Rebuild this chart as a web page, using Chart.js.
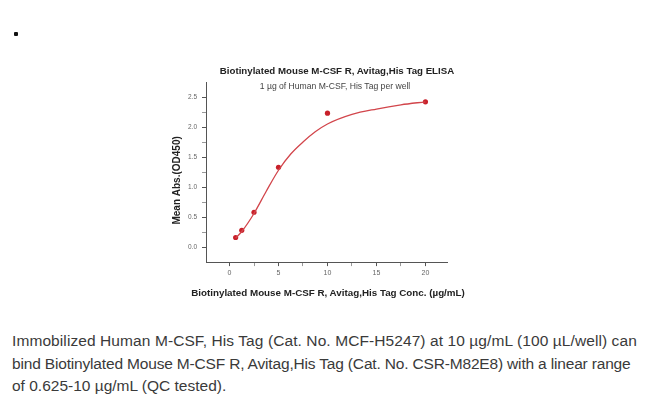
<!DOCTYPE html>
<html>
<head>
<meta charset="utf-8">
<script src="https://cdn.jsdelivr.net/npm/chart.js@4"></script>
<style>
  html, body { margin: 0; padding: 0; background: #fff; }
  body { width: 650px; height: 399px; position: relative; overflow: hidden; font-family: "Liberation Sans", Arial, sans-serif; }
  #wrap { position: absolute; left: 0; top: 0; width: 650px; height: 310px; }
  .ttl { position: absolute; white-space: nowrap; transform: translate(-50%, -50%); color: #222; }
  #title { left: 337px; top: 70px; font: bold 9.7px "Liberation Sans", Arial, sans-serif; }
  #subtitle { left: 335px; top: 86px; font: 8.6px "Liberation Sans", Arial, sans-serif; color: #444; }
  #xtitle { left: 328px; top: 292px; font: bold 9.8px "Liberation Sans", Arial, sans-serif; }
  #bullet { position: absolute; left: 14px; top: 32px; width: 4px; height: 4px; background: #111; border-radius: 1px; }
  #caption { position: absolute; left: 12px; top: 330px; width: 640px; font-size: 15.5px; line-height: 22.7px; color: #3a3a3a; white-space: nowrap; }
  #l1 { letter-spacing: 0.09px; }
  #l2 { letter-spacing: -0.17px; }
</style>
</head>
<body>
<div id="bullet"></div>
<div id="wrap"><canvas id="c" width="650" height="310"></canvas></div>
<div id="title" class="ttl">Biotinylated Mouse M-CSF R, Avitag,His Tag ELISA</div>
<div id="subtitle" class="ttl">1 µg of Human M-CSF, His Tag per well</div>
<div id="xtitle" class="ttl">Biotinylated Mouse M-CSF R, Avitag,His Tag Conc. (µg/mL)</div>
<div id="caption"><span id="l1">Immobilized Human M-CSF, His Tag (Cat. No. MCF-H5247) at 10 µg/mL (100 µL/well) can</span><br><span id="l2">bind Biotinylated Mouse M-CSF R, Avitag,His Tag (Cat. No. CSR-M82E8) with a linear range</span><br><span id="l3">of 0.625-10 µg/mL (QC tested).</span></div>
<script>
// measured points
const concentrations = [0.625, 1.25, 2.5, 5, 10, 20];
const meanAbs = [0.16, 0.28, 0.58, 1.33, 2.23, 2.42];
// fitted curve
const fitConc = [0.625, 1.25, 2.5, 3.75, 5, 6.25, 7.5, 8.75, 10, 12.5, 15, 17.5, 20];
const fitAbs = [0.15, 0.26, 0.56, 0.93, 1.28, 1.55, 1.75, 1.92, 2.05, 2.21, 2.30, 2.37, 2.42];
// tick labels
const xTickValues = [0, 5, 10, 15, 20];
const yTickValues = [0, 0.5, 1.0, 1.5, 2.0, 2.5];
const yTitle = 'Mean Abs.(OD450)\u00a0\u00a0\u00a0\u00a0\u00a0\u00a0';

const red = '#c8202a';
const curveRed = '#d2454b';
const axisColor = '#555';

const ptData = concentrations.map((x, i) => ({ x: x, y: meanAbs[i] }));
const fitData = fitConc.map((x, i) => ({ x: x, y: fitAbs[i] }));

function isMajor(v, list) { return list.some(t => Math.abs(t - v) < 1e-6); }

new Chart(document.getElementById('c'), {
  type: 'scatter',
  data: {
    datasets: [
      {
        type: 'line',
        label: 'fit',
        data: fitData,
        borderColor: curveRed,
        borderWidth: 1.3,
        pointRadius: 0,
        fill: false,
        cubicInterpolationMode: 'monotone'
      },
      {
        label: 'data',
        data: ptData,
        backgroundColor: red,
        borderColor: red,
        pointRadius: 2.6,
        pointBorderWidth: 0
      }
    ]
  },
  options: {
    responsive: false,
    animation: false,
    layout: { padding: { left: 171, right: 203, top: 82, bottom: 12 } },
    plugins: { legend: { display: false }, tooltip: { enabled: false } },
    scales: {
      x: {
        type: 'linear',
        min: -2.4,
        max: 22.2,
        afterBuildTicks: s => {
          const t = [];
          for (let v = 0; v <= 20.001; v += 2.5) t.push({ value: v });
          s.ticks = t;
        },
        afterFit: s => { s.height = 35.9; },
        border: { display: true, color: axisColor, width: 1 },
        grid: {
          drawOnChartArea: false,
          drawTicks: true,
          tickLength: 4,
          tickColor: ctx => isMajor(ctx.tick.value, xTickValues) ? axisColor : '#999'
        },
        ticks: {
          padding: 3,
          color: '#666',
          font: { size: 7, family: '"Liberation Sans", Arial, sans-serif' },
          maxRotation: 0,
          autoSkip: false,
          callback: v => isMajor(v, xTickValues) ? String(v) : ''
        },
        title: { display: false }
      },
      y: {
        type: 'linear',
        min: -0.25,
        max: 2.75,
        afterBuildTicks: s => {
          const t = [];
          for (let v = 0; v <= 2.5001; v += 0.25) t.push({ value: Math.round(v * 100) / 100 });
          s.ticks = t;
        },
        afterFit: s => { s.width = 35; },
        border: { display: true, color: axisColor, width: 1 },
        grid: {
          drawOnChartArea: false,
          drawTicks: true,
          tickLength: 4,
          tickColor: ctx => isMajor(ctx.tick.value, yTickValues) ? axisColor : '#999'
        },
        ticks: {
          padding: 5,
          color: '#666',
          font: { size: 6.5, family: '"Liberation Sans", Arial, sans-serif' },
          autoSkip: false,
          callback: v => isMajor(v, yTickValues) ? v.toFixed(1) : ''
        },
        title: {
          display: true,
          text: yTitle,
          color: '#222',
          padding: 0,
          font: { size: 10, weight: 'bold', family: '"Liberation Sans", Arial, sans-serif', lineHeight: 1.2 }
        }
      }
    }
  }
});
</script>
</body>
</html>
